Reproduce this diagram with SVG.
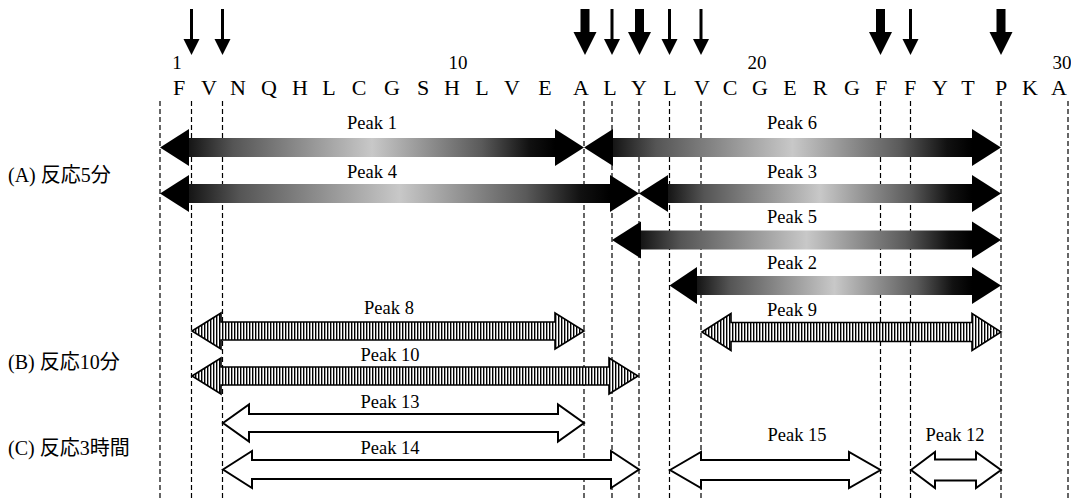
<svg xmlns="http://www.w3.org/2000/svg" width="1071" height="498" viewBox="0 0 1071 498">
<style>
text{font-family:'Liberation Serif','Times New Roman','DejaVu Serif',Times,serif;fill:#000}
.seq{font-size:22px;text-anchor:middle}
.num{font-size:19px;text-anchor:middle}
.pk{font-size:18.5px;text-anchor:middle}
.lab{font-family:'Liberation Serif','Noto Sans CJK JP',serif;font-size:20px}
.dash{stroke:#000;stroke-width:1.2;stroke-dasharray:5 3;fill:none}
.head{fill:#000}
.hat{fill:url(#hatch);stroke:#000;stroke-width:1.6;stroke-linejoin:miter}
.wht{fill:#fff;stroke:#000;stroke-width:2;stroke-linejoin:miter}
.cut{fill:#000}
</style>
<defs>
<linearGradient id="grad" x1="0" y1="0" x2="1" y2="0">
<stop offset="0" stop-color="#151515"/>
<stop offset="0.12" stop-color="#555"/>
<stop offset="0.5" stop-color="#c8c8c8"/>
<stop offset="0.8" stop-color="#5a5a5a"/>
<stop offset="0.93" stop-color="#111"/>
<stop offset="1" stop-color="#000"/>
</linearGradient>
<pattern id="hatch" width="3" height="4" patternUnits="userSpaceOnUse">
<rect width="3" height="4" fill="#fff"/>
<rect width="1.4" height="4" fill="#000"/>
</pattern>
</defs>

<g id="cleavage-arrows">
<g class="cut">
<rect x="190" y="9" width="3" height="31"/><polygon points="183.5,39 199.5,39 191.5,55"/>
<rect x="221" y="9" width="3" height="31"/><polygon points="214.5,39 230.5,39 222.5,55"/>
<rect x="580.5" y="9" width="9" height="24"/><polygon points="573.5,32 596.5,32 585,55"/>
<rect x="610.5" y="9" width="3" height="31"/><polygon points="604,39 620,39 612,55"/>
<rect x="635" y="9" width="9" height="24"/><polygon points="628,32 651,32 639.5,55"/>
<rect x="668" y="9" width="3" height="31"/><polygon points="661.5,39 677.5,39 669.5,55"/>
<rect x="699.5" y="9" width="3" height="31"/><polygon points="693,39 709,39 701,55"/>
<rect x="876" y="9" width="9" height="24"/><polygon points="869,32 892,32 880.5,55"/>
<rect x="909" y="9" width="3" height="31"/><polygon points="902.5,39 918.5,39 910.5,55"/>
<rect x="996.5" y="9" width="9" height="24"/><polygon points="989.5,32 1012.5,32 1001,55"/>
</g>
</g>

<g id="sequence">
<text class="num" x="177" y="69">1</text>
<text class="num" x="458" y="69">10</text>
<text class="num" x="757" y="69">20</text>
<text class="num" x="1062" y="69">30</text>
<text class="seq" x="179" y="95">F</text>
<text class="seq" x="209" y="95">V</text>
<text class="seq" x="238" y="95">N</text>
<text class="seq" x="269" y="95">Q</text>
<text class="seq" x="300" y="95">H</text>
<text class="seq" x="329" y="95">L</text>
<text class="seq" x="359" y="95">C</text>
<text class="seq" x="392" y="95">G</text>
<text class="seq" x="423" y="95">S</text>
<text class="seq" x="452" y="95">H</text>
<text class="seq" x="482" y="95">L</text>
<text class="seq" x="512" y="95">V</text>
<text class="seq" x="545" y="95">E</text>
<text class="seq" x="581" y="95">A</text>
<text class="seq" x="610" y="95">L</text>
<text class="seq" x="639" y="95">Y</text>
<text class="seq" x="670" y="95">L</text>
<text class="seq" x="702" y="95">V</text>
<text class="seq" x="730" y="95">C</text>
<text class="seq" x="760" y="95">G</text>
<text class="seq" x="790" y="95">E</text>
<text class="seq" x="820" y="95">R</text>
<text class="seq" x="852" y="95">G</text>
<text class="seq" x="881" y="95">F</text>
<text class="seq" x="910" y="95">F</text>
<text class="seq" x="940" y="95">Y</text>
<text class="seq" x="968" y="95">T</text>
<text class="seq" x="1001" y="95">P</text>
<text class="seq" x="1030" y="95">K</text>
<text class="seq" x="1059" y="95">A</text>
</g>

<g id="guides">
<line class="dash" x1="160" y1="101" x2="160" y2="498"/>
<line class="dash" x1="191.5" y1="101" x2="191.5" y2="498"/>
<line class="dash" x1="222.5" y1="101" x2="222.5" y2="498"/>
<line class="dash" x1="584" y1="101" x2="584" y2="498"/>
<line class="dash" x1="612" y1="101" x2="612" y2="498"/>
<line class="dash" x1="639" y1="101" x2="639" y2="498"/>
<line class="dash" x1="669.5" y1="101" x2="669.5" y2="498"/>
<line class="dash" x1="701" y1="101" x2="701" y2="498"/>
<line class="dash" x1="880.5" y1="101" x2="880.5" y2="498"/>
<line class="dash" x1="910.5" y1="101" x2="910.5" y2="498"/>
<line class="dash" x1="1001" y1="101" x2="1001" y2="498"/>
<line class="dash" x1="1068" y1="101" x2="1068" y2="498"/>
</g>

<g id="row-labels">
<text class="lab" x="8" y="182">(A) 反応5分</text>
<text class="lab" x="8" y="369">(B) 反応10分</text>
<text class="lab" x="8" y="455">(C) 反応3時間</text>
</g>

<g id="peak1">
<rect x="189" y="138" width="366" height="19" fill="url(#grad)"/>
<polygon class="head" points="160,147.5 189,129 189,166"/>
<polygon class="head" points="584,147.5 555,129 555,166"/>
<text class="pk" x="372" y="129">Peak 1</text>
</g>
<g id="peak6">
<rect x="613" y="138" width="359" height="19" fill="url(#grad)"/>
<polygon class="head" points="584,147.5 613,129 613,166"/>
<polygon class="head" points="1001,147.5 972,129 972,166"/>
<text class="pk" x="792" y="129">Peak 6</text>
</g>
<g id="peak4">
<rect x="189" y="184" width="421" height="19" fill="url(#grad)"/>
<polygon class="head" points="160,193.5 189,175 189,212"/>
<polygon class="head" points="639,193.5 610,175 610,212"/>
<text class="pk" x="372" y="178">Peak 4</text>
</g>
<g id="peak3">
<rect x="668" y="184" width="304" height="19" fill="url(#grad)"/>
<polygon class="head" points="639,193.5 668,175 668,212"/>
<polygon class="head" points="1001,193.5 972,175 972,212"/>
<text class="pk" x="792" y="178">Peak 3</text>
</g>
<g id="peak5">
<rect x="641" y="230.5" width="331" height="19" fill="url(#grad)"/>
<polygon class="head" points="612,240 641,221.5 641,258.5"/>
<polygon class="head" points="1001,240 972,221.5 972,258.5"/>
<text class="pk" x="792" y="223">Peak 5</text>
</g>
<g id="peak2">
<rect x="697" y="276" width="275" height="19" fill="url(#grad)"/>
<polygon class="head" points="669.5,285.5 697,267 697,304"/>
<polygon class="head" points="1001,285.5 972,267 972,304"/>
<text class="pk" x="792" y="269">Peak 2</text>
</g>

<g id="peak8">
<polygon class="hat" points="192,331 221,313 221,322 555,322 555,313 584,331 555,349 555,340 221,340 221,349"/>
<text class="pk" x="389" y="314">Peak 8</text>
</g>
<g id="peak9">
<polygon class="hat" points="702,332 731,313.5 731,322.5 972,322.5 972,313.5 1001,332 972,350.5 972,341.5 731,341.5 731,350.5"/>
<text class="pk" x="792" y="316">Peak 9</text>
</g>
<g id="peak10">
<polygon class="hat" points="192,376 221,358 221,367 609,367 609,358 638,376 609,394 609,385 221,385 221,394"/>
<text class="pk" x="390" y="361">Peak 10</text>
</g>

<g id="peak13">
<polygon class="wht" points="223,423 249,404.5 249,414 558,414 558,404.5 584,423 558,441.5 558,432 249,432 249,441.5"/>
<text class="pk" x="390" y="408">Peak 13</text>
</g>
<g id="peak14">
<polygon class="wht" points="223,469.5 252,451 252,460 611,460 611,451 639,469.5 611,488 611,479 252,479 252,488"/>
<text class="pk" x="390" y="454">Peak 14</text>
</g>
<g id="peak15">
<polygon class="wht" points="670,470 701,452 701,460 849,460 849,452 880.5,470 849,488 849,480 701,480 701,488"/>
<text class="pk" x="797" y="441">Peak 15</text>
</g>
<g id="peak12">
<polygon class="wht" points="911,470 935,452 935,459.5 976,459.5 976,452 1001,470 976,488 976,480.5 935,480.5 935,488"/>
<text class="pk" x="955" y="441">Peak 12</text>
</g>
</svg>
